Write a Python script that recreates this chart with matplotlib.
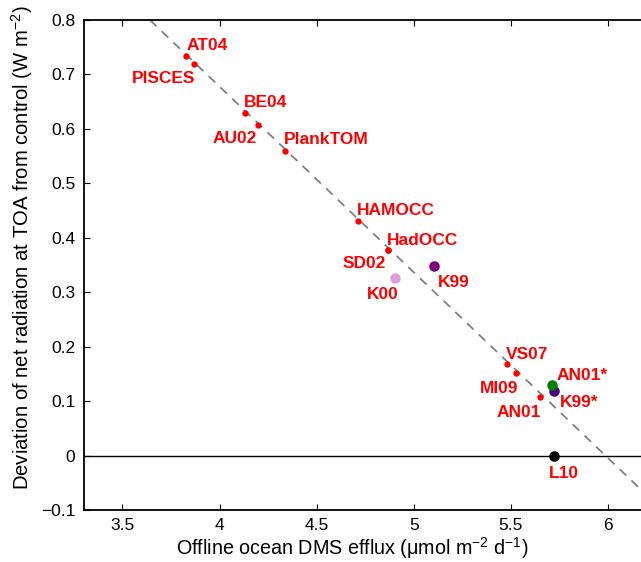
import numpy as np
import matplotlib
matplotlib.use("Agg")
import matplotlib.pyplot as plt

plt.rcParams['font.family'] = ['Liberation Sans', 'DejaVu Sans']
plt.rcParams['mathtext.fontset'] = 'custom'
plt.rcParams['mathtext.rm'] = 'Liberation Sans'
plt.rcParams['mathtext.it'] = 'Liberation Sans:italic'
plt.rcParams['axes.unicode_minus'] = True

# ---- data ----
model_names = ["AT04", "PISCES", "BE04", "AU02", "PlankTOM", "HAMOCC", "HadOCC",
               "SD02", "VS07", "MI09", "AN01"]
model_flux = [3.826, 3.869, 4.130, 4.196, 4.336, 4.711, 4.865, 4.866, 5.478, 5.526, 5.651]
model_dev = [0.733, 0.720, 0.629, 0.608, 0.559, 0.431, 0.378, 0.377, 0.1685, 0.151, 0.107]

clim_names = ["K99", "K00", "K99*", "AN01*", "L10"]
clim_flux = [5.105, 4.903, 5.721, 5.713, 5.720]
clim_dev = [0.349, 0.326, 0.118, 0.129, 0.0]
clim_colors = ["#800080", "#dda0dd", "#4b0082", "#007f00", "#000000"]

fit_slope = -0.3413
fit_intercept = 2.043

x_ticks = [3.5, 4, 4.5, 5, 5.5, 6]
y_ticks = [-0.1, 0, 0.1, 0.2, 0.3, 0.4, 0.5, 0.6, 0.7, 0.8]

# label offsets in pixels (dx, dy to baseline), alignment
label_style = {
    "AT04": (1, 6, "left"), "PISCES": (1, -19, "right"), "BE04": (-1, 6, "left"),
    "AU02": (-1, -18, "right"), "PlankTOM": (-1, 7, "left"), "HAMOCC": (-1, 6, "left"),
    "HadOCC": (-1, 5, "left"), "SD02": (-2, -18, "right"), "VS07": (-1, 5, "left"),
    "MI09": (2, -20, "right"), "AN01": (1, -20, "right"),
    "K99": (4, -21, "left"), "K00": (4, -21, "right"), "K99*": (6, -16, "left"),
    "AN01*": (4, 5, "left"), "L10": (-5, -22, "left"),
}

W, H = 641, 562
fig = plt.figure(figsize=(W / 100, H / 100), dpi=100)
ax = fig.add_axes([83.5 / W, 1 - 510 / H, (647 - 83.5) / W, (510 - 20) / H])
ax.set_xlim(3.3, 6.2)
ax.set_ylim(-0.1, 0.8)

ax.axhline(0, color="black", lw=1.0, zorder=1)
ax.axline((0, fit_intercept), slope=fit_slope, color="#808080", lw=1.3,
          dashes=(5, 4), zorder=1)

ax.plot(model_flux, model_dev, "o", color="red", ms=4.6, mec="none", zorder=3)
for name, x, y, c in zip(clim_names, clim_flux, clim_dev, clim_colors):
    ax.plot([x], [y], "o", color=c, ms=7.6, mec="none", zorder=3)

pt = 0.72
for name, x, y in list(zip(model_names, model_flux, model_dev)) + list(zip(clim_names, clim_flux, clim_dev)):
    dx, dy, ha = label_style[name]
    ax.annotate(name, (x, y), xytext=(dx * pt, dy * pt), textcoords="offset points",
                ha=ha, va="baseline", color="red", fontsize=12.5, fontweight="bold",
                zorder=4)

ax.set_xticks(x_ticks)
ax.set_xticklabels([f"{t:g}" for t in x_ticks])
ax.set_yticks(y_ticks)
ax.set_yticklabels([f"{t:g}".replace("-", "\u2212") for t in y_ticks])
ax.tick_params(direction="in", length=4, width=0.8, top=True, right=True,
               labelsize=12.5, pad=6)
for s in ax.spines.values():
    s.set_linewidth(1.3)

ax.set_xlabel("Offline ocean DMS efflux (\u03bcmol m$^{\u22122}$ d$^{\u22121}$)", fontsize=14.2)
ax.set_ylabel("Deviation of net radiation at TOA from control (W m$^{\u22122}$)", fontsize=14.6)
ax.xaxis.set_label_coords((352 - 83.5) / (647 - 83.5), -(548 - 510) / 490, transform=ax.transAxes)
ax.yaxis.set_label_coords(-(83.5 - 22) / (647 - 83.5), (510 - 248) / 490, transform=ax.transAxes)
ax.xaxis.label.set_va("center")
ax.yaxis.label.set_va("center")

fig.savefig("out.png", dpi=100)
